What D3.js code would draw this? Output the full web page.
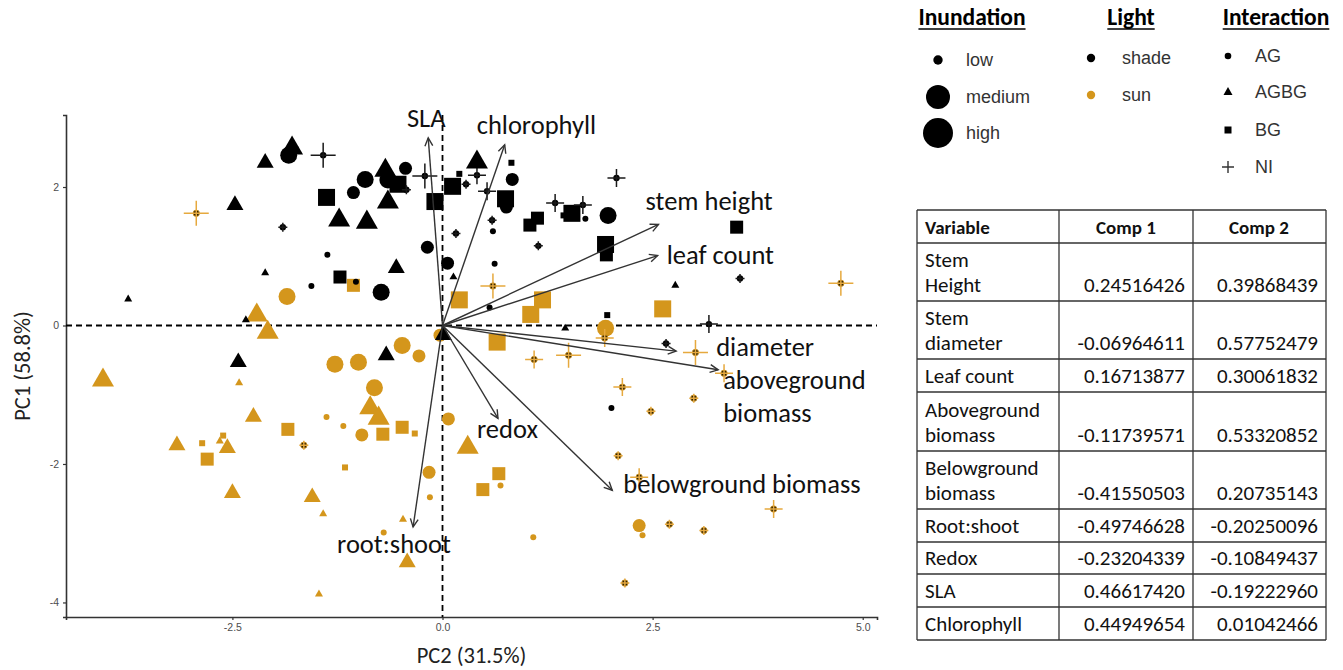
<!DOCTYPE html>
<html><head><meta charset="utf-8">
<script src="https://cdn.jsdelivr.net/npm/d3@7"></script>
<style>body{margin:0;background:#fff} svg{display:block}</style>
</head><body><svg id="c" width="1343" height="670"></svg>
<script>
// ---------------- DATA ----------------
const xTicks = [-2.5, 0, 2.5, 5];
const yTicks = [-4, -2, 0, 2];
const inundationLevels = ["low", "medium", "high"];
const lightLevels = ["shade", "sun"];
const interactionLevels = ["AG", "AGBG", "BG", "NI"];

// [PC2, PC1, inundation, interaction]
const shadePoints = [
  [-1.79,2.56,"high","AGBG"],[-1.83,2.46,"high","AG"],[-2.11,2.35,"medium","AGBG"],[-1.75,2.54,"low","BG"],
  [-1.42,2.46,"high","NI"],[-1.38,1.85,"high","BG"],[-2.47,1.74,"medium","AGBG"],[-1.90,1.42,"low","NI"],
  [-1.37,1.02,"low","AG"],[-2.11,0.76,"low","AGBG"],[-0.68,2.24,"high","AGBG"],[-0.92,2.11,"high","AG"],
  [-1.06,1.92,"medium","AG"],[-0.44,2.27,"medium","AG"],[-0.53,2.04,"high","BG"],[-0.65,2.10,"high","AG"],
  [-0.43,1.96,"low","NI"],[-0.21,2.16,"high","NI"],[-0.65,1.78,"high","AGBG"],[-1.23,1.52,"high","AGBG"],
  [-0.90,1.49,"high","AGBG"],[-0.09,1.79,"high","BG"],[0.12,2.01,"high","BG"],[0.20,2.19,"low","BG"],
  [0.28,2.04,"low","NI"],[0.41,2.17,"medium","NI"],[0.41,2.36,"high","AGBG"],[0.82,2.35,"low","BG"],
  [0.83,2.11,"medium","AG"],[0.53,1.94,"medium","NI"],[0.75,1.83,"high","BG"],[0.76,1.71,"medium","AG"],
  [0.59,1.52,"low","NI"],[0.60,1.36,"low","AG"],[1.13,1.55,"medium","BG"],[1.04,1.45,"medium","BG"],
  [1.34,1.77,"medium","NI"],[1.54,1.62,"high","BG"],[1.44,1.59,"low","BG"],[1.67,1.74,"medium","NI"],
  [1.70,1.54,"low","AG"],[1.97,1.59,"high","AG"],[1.14,1.15,"low","NI"],[0.16,1.33,"low","NI"],
  [-0.18,1.13,"medium","AG"],[0.06,0.90,"medium","AG"],[0.62,0.89,"low","AG"],[-0.55,0.83,"medium","AGBG"],
  [-1.22,0.70,"medium","BG"],[1.94,1.17,"high","BG"],[1.95,1.02,"medium","BG"],[2.07,2.13,"medium","NI"],
  [3.50,1.42,"medium","BG"],[3.54,0.68,"low","NI"],[-3.74,0.38,"low","AGBG"],[-1.56,0.57,"low","AG"],
  [-2.34,0.08,"low","AGBG"],[-2.43,-0.53,"medium","AGBG"],[-0.73,0.48,"high","AG"],[-1.03,0.63,"low","AG"],
  [0.56,0.26,"low","AG"],[0.13,0.70,"low","AGBG"],[1.46,-0.04,"low","AGBG"],[1.96,0.15,"low","BG"],
  [0.01,-0.14,"medium","AGBG"],[-0.67,-0.43,"medium","AGBG"],[2.01,-1.19,"low","AG"],[2.77,0.58,"low","AGBG"],
  [3.17,0.02,"medium","NI"],[2.66,-0.26,"low","NI"]
];
const sunPoints = [
  [-2.93,1.62,"high","NI"],[-1.85,0.42,"high","AG"],[-1.06,0.58,"medium","BG"],[-2.21,0.15,"high","AGBG"],
  [-2.08,-0.10,"high","AGBG"],[-1.28,-0.56,"high","AG"],[-4.04,-0.79,"high","AGBG"],[-2.42,-0.83,"low","AGBG"],
  [-2.25,-1.32,"medium","AGBG"],[-1.38,-1.32,"low","AG"],[-1.84,-1.50,"medium","BG"],[-1.65,-1.73,"low","NI"],
  [-3.16,-1.73,"medium","AGBG"],[-2.86,-1.70,"low","BG"],[-2.80,-1.93,"medium","BG"],[-2.56,-1.77,"medium","AGBG"],
  [-2.61,-1.59,"low","BG"],[-2.65,-1.67,"low","AGBG"],[-2.50,-2.42,"medium","AGBG"],[-1.55,-2.48,"medium","AGBG"],
  [-1.42,-2.72,"low","AGBG"],[-1.47,-3.88,"low","AGBG"],[0.60,0.57,"high","NI"],[0.20,0.37,"high","BG"],
  [1.19,0.37,"high","BG"],[1.05,0.16,"high","BG"],[1.94,-0.04,"high","AG"],[-0.03,-0.14,"medium","AG"],
  [0.65,-0.24,"high","BG"],[1.09,-0.49,"medium","NI"],[1.50,-0.43,"high","NI"],[-0.48,-0.29,"high","AG"],
  [-0.28,-0.44,"medium","AG"],[-1.00,-0.53,"high","AG"],[-0.81,-0.90,"high","AG"],[-0.86,-1.19,"high","AGBG"],
  [-0.76,-1.34,"high","AGBG"],[0.07,-1.35,"medium","AG"],[-1.18,-1.45,"low","AG"],[-0.96,-1.58,"medium","AG"],
  [-0.48,-1.47,"medium","BG"],[-0.71,-1.57,"medium","BG"],[-0.33,-1.56,"low","BG"],[0.30,-1.76,"high","AGBG"],
  [-1.16,-2.05,"low","BG"],[-0.16,-2.12,"medium","AG"],[0.67,-2.14,"medium","BG"],[0.48,-2.37,"medium","BG"],
  [0.69,-2.31,"low","AG"],[-0.15,-2.48,"low","AG"],[-0.47,-2.80,"low","AGBG"],[-0.70,-2.99,"low","AG"],
  [-0.42,-3.42,"medium","AGBG"],[1.08,-3.06,"low","AG"],[4.74,0.61,"high","NI"],[2.62,0.24,"high","BG"],
  [1.93,-0.18,"medium","NI"],[3.01,-0.39,"high","NI"],[3.35,-0.69,"medium","NI"],[2.14,-0.89,"medium","NI"],
  [2.99,-1.05,"low","NI"],[2.48,-1.24,"low","NI"],[2.09,-1.88,"low","NI"],[2.34,-2.19,"medium","NI"],
  [3.94,-2.65,"medium","NI"],[2.34,-2.89,"medium","AG"],[2.38,-3.03,"low","AG"],[2.70,-2.87,"low","NI"],
  [3.11,-2.96,"low","NI"],[2.17,-3.72,"low","NI"]
];

// Biplot loading arrows (end points, PC2 / PC1 units)
const arrowVars = ["SLA","chlorophyll","stem height","leaf count","diameter","aboveground biomass","redox","belowground biomass","root:shoot"];
const arrowPC2 = [-0.17, 0.74, 2.57, 2.56, 2.78, 3.28, 0.66, 2.02, -0.35];
const arrowPC1 = [2.71, 2.61, 1.46, 1.01, -0.37, -0.64, -1.34, -2.38, -2.91];

// Loadings table
const tableHeader = ["Variable", "Comp 1", "Comp 2"];
const tableVars = [["Stem","Height"],["Stem","diameter"],["Leaf count"],["Aboveground","biomass"],["Belowground","biomass"],["Root:shoot"],["Redox"],["SLA"],["Chlorophyll"]];
const comp1 = [0.24516426, -0.06964611, 0.16713877, -0.11739571, -0.41550503, -0.49746628, -0.23204339, 0.46617420, 0.44949654];
const comp2 = [0.39868439, 0.57752479, 0.30061832, 0.53320852, 0.20735143, -0.20250096, -0.10849437, -0.19222960, 0.01042466];

// ---------------- LAYOUT / STYLE ----------------
const plot = {left: 66, right: 877, top: 115, bottom: 617};
const colors = {shade: "#000000", sun: "#d4961c"};
const crossColors = {shade: "#1a1a1a", sun: "#e6a93e"};
const circR = {low: 3, medium: 6.5, high: 8.5};
const triW = {low: 8, medium: 17, high: 22};
const sqS = {low: 6, medium: 13, high: 17};
const crossS = {low: 9, medium: 18, high: 25};
const calibri = "Carlito, Lato, 'Open Sans', sans-serif";
const arial = "'Liberation Sans', Arial, sans-serif";
const hy = f => d => f(d).replace("\u2212", "-");
// label offsets from arrow tip (px): dx, dy, anchor
const labelLayout = [
  [-2,-11,"middle"],[-28,-11,"start"],[-13,-14,"start"],[9,8,"start"],[40,5,"start"],
  [5,19,"start"],[-21,20,"start"],[11,3,"start"],[-76,26,"start"]
];

const svg = d3.select("#c");
const x = d3.scaleLinear().domain([-4.48, 5.17]).range([plot.left, plot.right]);
const y = d3.scaleLinear().domain([-4.21, 3.04]).range([plot.bottom, plot.top]);

// axes
const gx = svg.append("g").attr("transform", `translate(0,${plot.bottom})`)
  .call(d3.axisBottom(x).tickValues(xTicks).tickFormat(hy(d3.format(".1f"))).tickSizeOuter(0).tickSize(3).tickPadding(4));
const gy = svg.append("g").attr("transform", `translate(${plot.left},0)`)
  .call(d3.axisLeft(y).tickValues(yTicks).tickFormat(hy(d3.format("d"))).tickSizeOuter(0).tickSize(3).tickPadding(4));
[gx, gy].forEach(g => {
  g.select(".domain").attr("stroke", "#333").attr("stroke-width", 1.6);
  g.selectAll(".tick line").attr("stroke", "#333").attr("stroke-width", 1.2);
  g.selectAll(".tick text").attr("fill", "#4d4d4d").attr("font-family", arial).attr("font-size", 10.5);
});

// zero dashed lines
svg.append("line").attr("x1", plot.left).attr("x2", plot.right).attr("y1", y(0)).attr("y2", y(0))
  .attr("stroke", "#000").attr("stroke-width", 1.8).attr("stroke-dasharray", "6,4");
svg.append("line").attr("x1", x(0)).attr("x2", x(0)).attr("y1", plot.top).attr("y2", plot.bottom)
  .attr("stroke", "#000").attr("stroke-width", 1.8).attr("stroke-dasharray", "6,4");

// axis titles
svg.append("text").attr("x", (plot.left + plot.right) / 2).attr("y", 663).attr("text-anchor", "middle")
  .attr("font-family", calibri).attr("font-size", 22.5).attr("fill", "#222").text("PC2 (31.5%)");
svg.append("text").attr("transform", `translate(30,${(plot.top + plot.bottom) / 2}) rotate(-90)`)
  .attr("text-anchor", "middle").attr("font-family", calibri).attr("font-size", 22.5).attr("fill", "#222").text("PC1 (58.8%)");

// symbols
function drawPoint(g, px, py, inund, inter, light) {
  const c = colors[light];
  if (inter === "AG") {
    g.append("circle").attr("cx", px).attr("cy", py).attr("r", circR[inund]).attr("fill", c);
  } else if (inter === "AGBG") {
    const w = triW[inund], h = w * 0.866;
    g.append("path").attr("d", `M${px},${py - 2 * h / 3}L${px + w / 2},${py + h / 3}L${px - w / 2},${py + h / 3}Z`).attr("fill", c);
  } else if (inter === "BG") {
    const s = sqS[inund];
    g.append("rect").attr("x", px - s / 2).attr("y", py - s / 2).attr("width", s).attr("height", s).attr("fill", c);
  } else {
    const s = crossS[inund] / 2;
    g.append("circle").attr("cx", px).attr("cy", py).attr("r", 3.2)
      .attr("fill", light === "sun" ? "#2e2206" : "#000")
      .attr("stroke", light === "sun" ? colors.sun : "none").attr("stroke-width", 0.8);
    g.append("path").attr("d", `M${px - s},${py}H${px + s}M${px},${py - s}V${py + s}`)
      .attr("stroke", crossColors[light]).attr("stroke-width", 1.5).attr("fill", "none");
  }
}
const gp = svg.append("g");
sunPoints.forEach(d => drawPoint(gp, x(d[0]), y(d[1]), d[2], d[3], "sun"));
shadePoints.forEach(d => drawPoint(gp, x(d[0]), y(d[1]), d[2], d[3], "shade"));

// arrows
const ga = svg.append("g");
arrowVars.forEach((v, i) => {
  const x0 = x(0), y0 = y(0), x1 = x(arrowPC2[i]), y1 = y(arrowPC1[i]);
  const ang = Math.atan2(y1 - y0, x1 - x0), L = 9, a = 0.45;
  ga.append("line").attr("x1", x0).attr("y1", y0).attr("x2", x1).attr("y2", y1)
    .attr("stroke", "#333").attr("stroke-width", 1.4);
  ga.append("path").attr("d",
      `M${x1 - L * Math.cos(ang - a)},${y1 - L * Math.sin(ang - a)}L${x1},${y1}L${x1 - L * Math.cos(ang + a)},${y1 - L * Math.sin(ang + a)}`)
    .attr("stroke", "#333").attr("stroke-width", 1.4).attr("fill", "none");
  const lay = labelLayout[i];
  const words = v === "aboveground biomass" ? ["aboveground", "biomass"] : [v];
  words.forEach((w, k) => {
    ga.append("text").attr("x", x1 + lay[0]).attr("y", y1 + lay[1] + k * 33).attr("text-anchor", lay[2])
      .attr("font-family", calibri).attr("font-size", 26.5).attr("fill", "#111").text(w);
  });
});

// legend
const lg = svg.append("g").attr("font-family", arial);
function title(tx, ty, t) {
  const el = lg.append("text").attr("x", tx).attr("y", ty).attr("text-anchor", "middle").attr("font-family", calibri)
    .attr("font-weight", "bold").attr("font-size", 23.5).attr("fill", "#000").text(t);
  const w = el.node().getComputedTextLength();
  lg.append("line").attr("x1", tx - w / 2).attr("x2", tx + w / 2).attr("y1", ty + 4).attr("y2", ty + 4)
    .attr("stroke", "#000").attr("stroke-width", 1.6);
}
title(972, 25, "Inundation");
title(1131, 25, "Light");
title(1276, 25, "Interaction");
const legR = {low: 4.7, medium: 12, high: 15};
const legY = [60, 97, 133];
inundationLevels.forEach((lv, i) => {
  lg.append("circle").attr("cx", 938).attr("cy", legY[i]).attr("r", legR[lv]).attr("fill", "#000");
  lg.append("text").attr("x", 966).attr("y", legY[i] + 6).attr("font-size", 18).attr("fill", "#333").text(lv);
});
const lightY = [58, 95];
lightLevels.forEach((lv, i) => {
  lg.append("circle").attr("cx", 1091).attr("cy", lightY[i]).attr("r", 4.2).attr("fill", colors[lv]);
  lg.append("text").attr("x", 1122).attr("y", lightY[i] + 6).attr("font-size", 18).attr("fill", "#333").text(lv);
});
const interY = [56, 92, 130, 167];
interactionLevels.forEach((lv, i) => {
  const cx = 1228, cy = interY[i];
  if (lv === "AG") lg.append("circle").attr("cx", cx).attr("cy", cy).attr("r", 3.3).attr("fill", "#000");
  else if (lv === "AGBG") lg.append("path").attr("d", `M${cx},${cy - 5}L${cx + 4.5},${cy + 3}L${cx - 4.5},${cy + 3}Z`).attr("fill", "#000");
  else if (lv === "BG") lg.append("rect").attr("x", cx - 3.5).attr("y", cy - 3.5).attr("width", 7).attr("height", 7).attr("fill", "#000");
  else lg.append("path").attr("d", `M${cx - 6},${cy}H${cx + 6}M${cx},${cy - 6}V${cy + 6}`).attr("stroke", "#333").attr("stroke-width", 1.4);
  lg.append("text").attr("x", 1255).attr("y", cy + 6).attr("font-size", 18).attr("fill", "#333").text(lv);
});

// table
const tg = svg.append("g").attr("font-family", calibri).attr("fill", "#111");
const tLeft = 917, tRight = 1326, colX = [917, 1059, 1193, 1326];
const rowEdges = [210, 243, 301, 359, 392, 451, 509, 542, 574, 607, 640];
rowEdges.forEach(ry => tg.append("line").attr("x1", tLeft).attr("x2", tRight).attr("y1", ry).attr("y2", ry).attr("stroke", "#333").attr("stroke-width", 1.3));
colX.forEach(cx => tg.append("line").attr("x1", cx).attr("x2", cx).attr("y1", rowEdges[0]).attr("y2", rowEdges[rowEdges.length - 1]).attr("stroke", "#333").attr("stroke-width", 1.3));
tg.append("text").attr("x", 925).attr("y", 234).attr("font-weight", "bold").attr("font-size", 19).text(tableHeader[0]);
tg.append("text").attr("x", 1126).attr("y", 234).attr("text-anchor", "middle").attr("font-weight", "bold").attr("font-size", 19).text(tableHeader[1]);
tg.append("text").attr("x", 1259).attr("y", 234).attr("text-anchor", "middle").attr("font-weight", "bold").attr("font-size", 19).text(tableHeader[2]);
const f8 = hy(d3.format(".8f"));
tableVars.forEach((lines, i) => {
  const bottom = rowEdges[i + 2];
  const base = bottom - 9;
  lines.forEach((t, k) => {
    tg.append("text").attr("x", 925).attr("y", base - (lines.length - 1 - k) * 25).attr("font-size", 21).text(t);
  });
  tg.append("text").attr("x", 1185).attr("y", base).attr("text-anchor", "end").attr("font-size", 21).text(f8(comp1[i]));
  tg.append("text").attr("x", 1318).attr("y", base).attr("text-anchor", "end").attr("font-size", 21).text(f8(comp2[i]));
});
</script>
</body></html>
